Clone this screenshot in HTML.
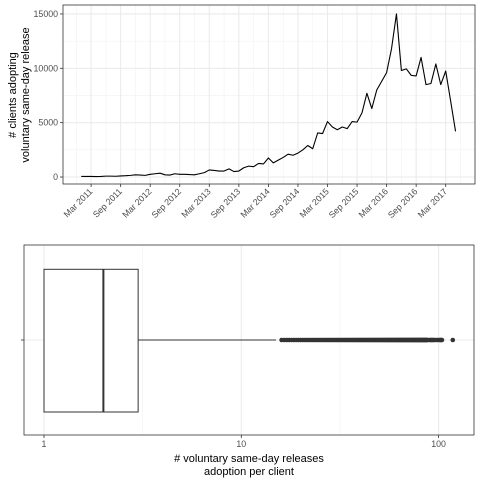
<!DOCTYPE html>
<html><head><meta charset="utf-8"><style>
body{margin:0;background:#fff;}
svg{display:block;font-family:"Liberation Sans",Arial,sans-serif;}
</style></head><body>
<svg id="c" width="480" height="480" viewBox="0 0 480 480" xmlns="http://www.w3.org/2000/svg">
<rect width="480" height="480" fill="#fff"/>
<g id="top"></g>
<g id="bot"></g>
</svg>
<script>
// ---- top chart data (thousands of clients, monthly Jan 2011 .. May 2017)
const startYear = 2011;
const startMonth = 0;
const clients = [
0.05,0.05,0.05,0.04,0.05,0.08,0.08,0.07,0.1,0.12,0.15,0.2,
0.18,0.15,0.25,0.3,0.35,0.2,0.18,0.3,0.25,0.25,0.22,0.2,
0.3,0.4,0.65,0.6,0.55,0.55,0.75,0.5,0.55,0.85,1.0,0.95,
1.25,1.2,1.75,1.3,1.55,1.8,2.1,2.0,2.2,2.5,2.9,2.6,
4.05,4.0,5.1,4.6,4.35,4.6,4.45,5.1,5.05,5.9,7.7,6.3,
8.0,8.8,9.6,11.8,15.0,9.8,9.95,9.35,9.3,11.0,8.5,8.6,
10.4,8.5,9.75,7.0,4.2];
const yTicks = [0,5000,10000,15000];
const xTickLabels = ["Mar 2011","Sep 2011","Mar 2012","Sep 2012","Mar 2013","Sep 2013","Mar 2014","Sep 2014","Mar 2015","Sep 2015","Mar 2016","Sep 2016","Mar 2017"];

// ---- bottom chart data
const boxStats = [1,2,3,15]; // q1, median, q3, upper whisker
const outliers = [];
for (let v=16; v<=88; v+=0.5) outliers.push(v);
const outliersExtra = [90,91,92,93,94,95,97,99,101,102,103,104,118];
const logTicks = [1,10,100];
const logTickLabels = ["1","10","100"];

const NS="http://www.w3.org/2000/svg";
function mk(parent,tag,attrs,text){const e=document.createElementNS(NS,tag);for(const k in attrs)e.setAttribute(k,attrs[k]);if(text!==undefined)e.textContent=text;parent.appendChild(e);return e;}

// ===== TOP =====
const T=document.getElementById('top');
const L=63,R=475,Tp=5,B=184;
const m0=91.1, perMonth=4.925;
function xm(i){return m0+(i-2)*perMonth;}
function yv(v){return 177-v*10.87/1000;}
let r=mk(T,'rect',{x:L,y:Tp,width:R-L,height:B-Tp,fill:'#fff'});


for(let v=2500;v<15000;v+=5000){let g=mk(T,'line',{x1:L,x2:R,y1:yv(v),y2:yv(v),stroke:'#f2f2f2','stroke-width':0.6});

}
for(let k=-1;k<xTickLabels.length;k++){const x=xm(2+k*6+3);if(x<L||x>R)continue;let g=mk(T,'line',{x1:x,x2:x,y1:Tp,y2:B,stroke:'#f2f2f2','stroke-width':0.6});

}
yTicks.forEach(v=>{let g=mk(T,'line',{x1:L,x2:R,y1:yv(v),y2:yv(v),stroke:'#ebebeb','stroke-width':1.1});


let t=mk(T,'line',{x1:L-3,x2:L,y1:yv(v),y2:yv(v),stroke:'#333','stroke-width':0.8});


let lb=mk(T,'text',{x:L-5,y:yv(v)+3,'text-anchor':'end','font-size':8.8,fill:'#4d4d4d'},String(v));

});
xTickLabels.forEach((s,k)=>{const x=xm(2+k*6);
let g=mk(T,'line',{x1:x,x2:x,y1:Tp,y2:B,stroke:'#ebebeb','stroke-width':1.1});


let t=mk(T,'line',{x1:x,x2:x,y1:B,y2:B+3,stroke:'#333','stroke-width':0.8});


let lb=mk(T,'text',{x:x+2,y:B+8,'text-anchor':'end','font-size':8.8,fill:'#4d4d4d',transform:`rotate(-45 ${x+2} ${B+8})`},s);

});
let pts=clients.map((v,i)=>xm(i).toFixed(2)+','+yv(v*1000).toFixed(2)).join(' ');
let ln=mk(T,'polyline',{points:pts,fill:'none',stroke:'#000','stroke-width':1.1,'stroke-linejoin':'round'});


let bd=mk(T,'rect',{x:L,y:Tp,width:R-L,height:B-Tp,fill:'none',stroke:'#333','stroke-width':0.8});


let yt=mk(T,'text',{transform:'translate(0 95) rotate(-90)','text-anchor':'middle','font-size':11,fill:'#000'});


mk(yt,'tspan',{x:0,y:16},'# clients adopting');
mk(yt,'tspan',{x:0,y:29},'voluntary same-day release');

// ===== BOTTOM =====
const Bg=document.getElementById('bot');
const L2=24,R2=474,T2=245,B2=435,cy=340;
function xl(v){return 44+Math.log10(v)*197.3;}
let r2=mk(Bg,'rect',{x:L2,y:T2,width:R2-L2,height:B2-T2,fill:'#fff'});


[Math.sqrt(10),Math.sqrt(1000)].forEach(v=>{let g=mk(Bg,'line',{x1:xl(v),x2:xl(v),y1:T2,y2:B2,stroke:'#f2f2f2','stroke-width':0.6});

});
logTicks.forEach((v,k)=>{const x=xl(v);
let g=mk(Bg,'line',{x1:x,x2:x,y1:T2,y2:B2,stroke:'#ebebeb','stroke-width':1.1});


let t=mk(Bg,'line',{x1:x,x2:x,y1:B2,y2:B2+3,stroke:'#333','stroke-width':0.8});


let lb=mk(Bg,'text',{x:x,y:B2+12,'text-anchor':'middle','font-size':8.8,fill:'#4d4d4d'},logTickLabels[k]);

});
let hg=mk(Bg,'line',{x1:L2,x2:R2,y1:cy,y2:cy,stroke:'#ebebeb','stroke-width':1.1});


let yk=mk(Bg,'line',{x1:L2-3,x2:L2,y1:cy,y2:cy,stroke:'#333','stroke-width':0.8});


let wh=mk(Bg,'line',{x1:xl(boxStats[2]),x2:xl(boxStats[3]),y1:cy,y2:cy,stroke:'#333','stroke-width':1});


let bx=mk(Bg,'rect',{x:xl(boxStats[0]),y:269.3,width:xl(boxStats[2])-xl(boxStats[0]),height:142.7,fill:'#fff',stroke:'#333','stroke-width':1});


let md=mk(Bg,'line',{x1:xl(boxStats[1]),x2:xl(boxStats[1]),y1:269.3,y2:412,stroke:'#333','stroke-width':2});


outliers.concat(outliersExtra).forEach(v=>{let c=mk(Bg,'circle',{cx:xl(v),cy:cy,r:2.3,fill:'#333'});

});
let bd2=mk(Bg,'rect',{x:L2,y:T2,width:R2-L2,height:B2-T2,fill:'none',stroke:'#333','stroke-width':0.8});


let xt=mk(Bg,'text',{'text-anchor':'middle','font-size':11,fill:'#000'});


mk(xt,'tspan',{x:249,y:462},'# voluntary same-day releases');
mk(xt,'tspan',{x:249,y:475},'adoption per client');
</script>
</body></html>
